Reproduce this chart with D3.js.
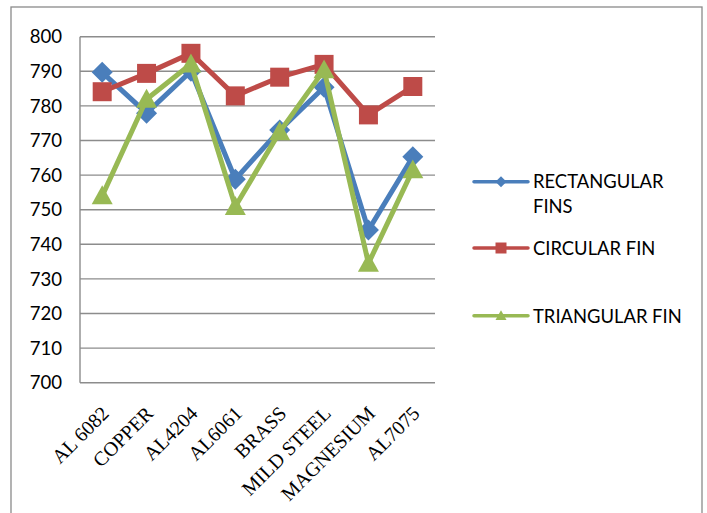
<!DOCTYPE html>
<html><head><meta charset="utf-8">
<script src="https://cdn.jsdelivr.net/npm/d3@7"></script>
<style>body{margin:0;background:#fff;}svg{display:block;}</style>
</head><body>
<svg id="chart" width="707" height="513"></svg>
<script>
const categories = ["AL 6082","COPPER","AL4204","AL6061","BRASS","MILD STEEL","MAGNESIUM","AL7075"];
const rectangularFins = [789.7, 777.9, 790, 758.8, 773.0, 785.4, 744.1, 765.3];
const circularFin = [784.1, 789.4, 795.2, 782.9, 788.3, 792.0, 777.4, 785.6];
const triangularFin = [754.0, 781.9, 792.1, 750.9, 772.5, 790.4, 734.5, 761.5];
const yTicks = [700,710,720,730,740,750,760,770,780,790,800];
const seriesNames = [["RECTANGULAR","FINS"],["CIRCULAR FIN"],["TRIANGULAR FIN"]];
const colors = ["#4A7EBB","#BE4B48","#98B954"];
const shapes = ["diamond","square","triangle"];

const svg = d3.select("#chart");
const sans = "Lato, 'Open Sans', sans-serif";

// frame
svg.append("rect").attr("x",11).attr("y",7).attr("width",691).attr("height",530)
  .attr("fill","none").attr("stroke","#8a8a8a").attr("stroke-width",1.3);

const x = d3.scalePoint().domain(categories).range([80,435]).padding(0.5);
const y = d3.scaleLinear().domain([700,800]).range([382.7,36.7]);

// grid
svg.append("g").selectAll("line").data(yTicks).join("line")
  .attr("x1",80).attr("x2",435).attr("y1",d=>y(d)).attr("y2",d=>y(d))
  .attr("stroke","#8c8c8c").attr("stroke-width",1.4);
svg.append("line").attr("x1",80).attr("x2",80).attr("y1",y(800)).attr("y2",y(700))
  .attr("stroke","#8c8c8c").attr("stroke-width",1.4);

// y labels
svg.append("g").selectAll("text").data(yTicks).join("text")
  .attr("x",62).attr("y",d=>y(d)).attr("dy","0.36em").attr("text-anchor","end")
  .attr("font-family",sans).attr("font-size",18.6).attr("fill","#000").text(d=>d);

// x labels
svg.append("g").selectAll("text").data(categories).join("text")
  .attr("transform",d=>`translate(${x(d)+8},${y(700)+32}) rotate(-45)`)
  .attr("text-anchor","end").attr("font-family","'Liberation Serif', 'Times New Roman', serif")
  .attr("font-size",20).attr("fill","#000").text(d=>d);

function markerPath(shape, s){
  if(shape==="diamond") return `M0,${-s}L${s},0L0,${s}L${-s},0Z`;
  if(shape==="square") return `M${-s},${-s}H${s}V${s}H${-s}Z`;
  return `M0,${-s}L${s},${s*0.8}L${-s},${s*0.8}Z`;
}

const allSeries = [rectangularFins, circularFin, triangularFin];
const line = d3.line().x((d,i)=>x(categories[i])).y(d=>y(d));
const markerSizes = [10.5, 9.5, 10.5];

allSeries.forEach((vals,k)=>{
  const g = svg.append("g");
  g.append("path").datum(vals).attr("d",line).attr("fill","none")
    .attr("stroke",colors[k]).attr("stroke-width",5).attr("stroke-linejoin","round");
  g.selectAll("path.m").data(vals).join("path").attr("class","m")
    .attr("transform",(d,i)=>`translate(${x(categories[i])},${y(d)})`)
    .attr("d",markerPath(shapes[k], markerSizes[k])).attr("fill",colors[k]);
});

// legend
const legY = [181.7, 248, 315.7];
const legTextY = [188.3, 255, 323.3];
seriesNames.forEach((nm,k)=>{
  const g = svg.append("g");
  g.append("line").attr("x1",474).attr("x2",528).attr("y1",legY[k]).attr("y2",legY[k])
    .attr("stroke",colors[k]).attr("stroke-width",3.5).attr("stroke-linecap","round");
  g.append("path").attr("transform",`translate(501,${legY[k]})`)
    .attr("d",markerPath(shapes[k],5.5)).attr("fill",colors[k]);
  nm.forEach((t,j)=>{
    g.append("text").attr("x",533).attr("y",legTextY[k]+j*25)
      .attr("font-family",sans).attr("font-size",18.4).attr("fill","#000").text(t);
  });
});
</script>
</body></html>
